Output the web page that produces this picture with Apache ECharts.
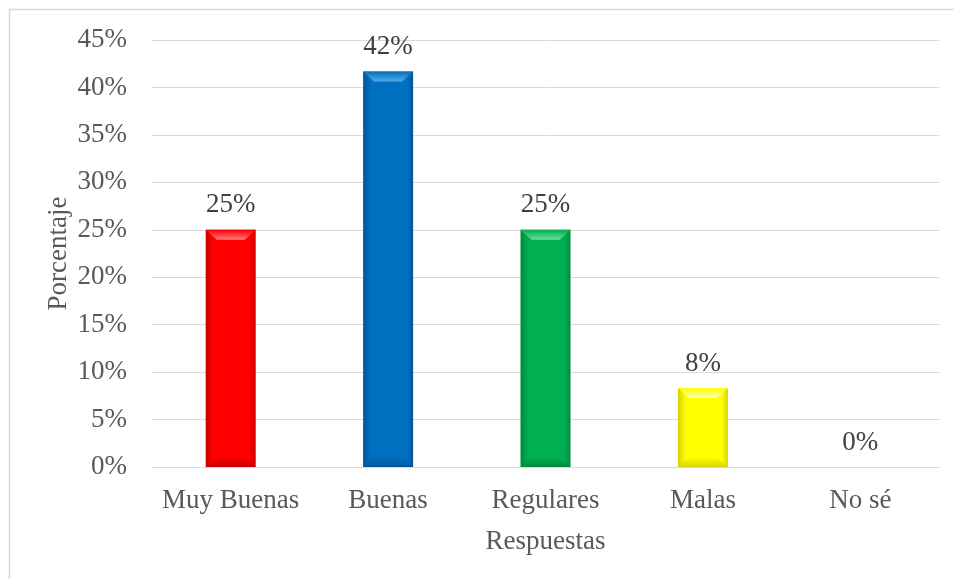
<!DOCTYPE html>
<html>
<head>
<meta charset="utf-8">
<script src="https://cdn.jsdelivr.net/npm/echarts@6/dist/echarts.min.js"></script>
<style>
html, body { margin: 0; padding: 0; background: #ffffff; }
#chart { width: 954px; height: 579px; }
</style>
</head>
<body>
<div id="chart"></div>
<script>
// Survey answers and their share of respondents (percent)
const categories = ['Muy Buenas', 'Buenas', 'Regulares', 'Malas', 'No sé'];
const percentages = [25, 41.67, 25, 8.33, 0];
const yTicks = [0, 5, 10, 15, 20, 25, 30, 35, 40, 45];

// Base colour of each bar and the darker / lighter tones used for its bevel
const barColors = ['#ff0000', '#0070c0', '#00b050', '#ffff00', '#a5a5a5'];
const edgeColors = ['#c80000', '#00569a', '#008a40', '#d4d400', '#7f7f7f'];
const lightColors = ['#ff7a7a', '#58aaea', '#6ade98', '#ffffb0', '#d0d0d0'];

const FONT = '"Liberation Serif", "Times New Roman", serif';
const FS = 27;

const chart = echarts.init(document.getElementById('chart'), null, { renderer: 'canvas' });

function barGradient(i) {
  return new echarts.graphic.LinearGradient(0, 0, 1, 0, [
    { offset: 0, color: edgeColors[i] },
    { offset: 0.16, color: barColors[i] },
    { offset: 0.88, color: barColors[i] },
    { offset: 1, color: edgeColors[i] }
  ]);
}

// Bevelled caps on top and bottom of each bar
function renderBevel(params, api) {
  const idx = api.value(0);
  const val = api.value(1);
  const top = api.coord([idx, val]);
  const base = api.coord([idx, 0]);
  const w = 50;
  const h = base[1] - top[1];
  if (h < 2) return null;
  const x0 = top[0] - w / 2;
  const x1 = top[0] + w / 2;
  const b = Math.min(10, h / 3);
  const inset = 11;
  return {
    type: 'group',
    children: [
      {
        type: 'polygon',
        shape: { points: [[x0, top[1]], [x1, top[1]], [x1 - inset, top[1] + b], [x0 + inset, top[1] + b]] },
        style: {
          fill: new echarts.graphic.LinearGradient(0, 0, 0, 1, [
            { offset: 0, color: barColors[idx] },
            { offset: 1, color: lightColors[idx] }
          ])
        }
      },
      {
        type: 'polygon',
        shape: { points: [[x0, base[1]], [x1, base[1]], [x1 - inset, base[1] - b], [x0 + inset, base[1] - b]] },
        style: {
          fill: new echarts.graphic.LinearGradient(0, 0, 0, 1, [
            { offset: 0, color: barColors[idx] },
            { offset: 1, color: edgeColors[idx] }
          ])
        }
      }
    ]
  };
}

const option = {
  backgroundColor: '#ffffff',
  animation: false,
  graphic: [
    {
      type: 'rect',
      shape: { x: 9.5, y: 9.5, width: 1000, height: 620 },
      style: { fill: 'none', stroke: '#d9d9d9', lineWidth: 1.5 },
      silent: true,
      z: -10
    }
  ],
  grid: { left: 152, right: 15, top: 40, bottom: 112, containLabel: false },
  xAxis: {
    type: 'category',
    data: categories,
    name: 'Respuestas',
    nameLocation: 'middle',
    nameGap: 61,
    nameMoveOverlap: false,
    nameTextStyle: { fontFamily: FONT, fontSize: FS, color: '#595959' },
    axisLine: { show: true, lineStyle: { color: '#d9d9d9', width: 1 } },
    axisTick: { show: false },
    axisLabel: { interval: 0, fontFamily: FONT, fontSize: FS, color: '#595959', margin: 20 }
  },
  yAxis: {
    type: 'value',
    min: yTicks[0],
    max: yTicks[yTicks.length - 1],
    interval: 5,
    name: 'Porcentaje',
    nameLocation: 'middle',
    nameGap: 80,
    nameMoveOverlap: false,
    nameRotate: 90,
    nameTextStyle: { fontFamily: FONT, fontSize: FS, color: '#595959' },
    axisLine: { show: false },
    axisTick: { show: false },
    axisLabel: { fontFamily: FONT, fontSize: FS, color: '#595959', margin: 25, formatter: v => v + '%' },
    splitLine: { show: true, lineStyle: { color: '#d9d9d9', width: 1 } }
  },
  series: [
    {
      type: 'bar',
      data: percentages.map((v, i) => ({ value: v, itemStyle: { color: barGradient(i) } })),
      barWidth: 50,
      label: {
        show: true,
        position: 'top',
        distance: 11,
        fontFamily: FONT,
        fontSize: FS,
        color: '#404040',
        formatter: p => Math.round(p.value) + '%'
      },
      z: 2
    },
    {
      type: 'custom',
      renderItem: renderBevel,
      data: percentages.map((v, i) => [i, v]),
      silent: true,
      z: 3
    }
  ]
};

chart.setOption(option);
</script>
</body>
</html>
